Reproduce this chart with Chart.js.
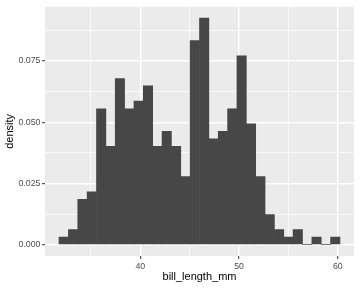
<!DOCTYPE html>
<html>
<head>
<meta charset="utf-8">
<script src="https://cdn.jsdelivr.net/npm/chart.js@4.4.1/dist/chart.umd.min.js"></script>
<style>
  html, body { margin: 0; padding: 0; background: #ffffff; }
  #wrap { width: 360px; height: 288px; }
</style>
</head>
<body>
<div id="wrap"><canvas id="chart"></canvas></div>
<script>
// bin centres (bill_length_mm) and density of each bin
const binCenters = [32.241, 33.189, 34.138, 35.086, 36.034, 36.982, 37.931, 38.879, 39.827, 40.776,
                    41.724, 42.672, 43.620, 44.569, 45.517, 46.465, 47.413, 48.362, 49.310, 50.258,
                    51.207, 52.155, 53.103, 54.051, 55.000, 55.948, 56.896, 57.844, 58.793, 59.741];
const densities = [0.0031, 0.0062, 0.0185, 0.0216, 0.0555, 0.0401, 0.0678, 0.0555, 0.0586, 0.0648,
                   0.0401, 0.0463, 0.0401, 0.0278, 0.0833, 0.0925, 0.0432, 0.0463, 0.0555, 0.0771,
                   0.0493, 0.0278, 0.0123, 0.0062, 0.0031, 0.0062, 0, 0.0031, 0, 0.0031];
const xTicks = [35, 40, 45, 50, 55, 60];
const xMajor = [40, 50, 60];
const yTicks = [0, 0.0125, 0.025, 0.0375, 0.05, 0.0625, 0.075, 0.0875];
const yMajor = [0, 0.025, 0.05, 0.075];

const fontFamily = '"Liberation Sans", Arial, sans-serif';
const isMajor = (list, v) => list.some(m => Math.abs(m - v) < 1e-9);

// grey panel behind the chart area
const panelBg = {
  id: 'panelBg',
  beforeDraw(chart) {
    const { ctx, chartArea: a } = chart;
    ctx.save();
    ctx.fillStyle = '#EBEBEB';
    ctx.fillRect(a.left, a.top, a.right - a.left, a.bottom - a.top);
    ctx.restore();
  }
};

const ctx = document.getElementById('chart').getContext('2d');
new Chart(ctx, {
  type: 'bar',
  data: {
    datasets: [{
      data: binCenters.map((x, i) => ({ x: x, y: densities[i] })),
      backgroundColor: '#474747',
      borderWidth: 0,
      barPercentage: 1,
      categoryPercentage: 1
    }]
  },
  options: {
    responsive: true,
    maintainAspectRatio: false,
    animation: false,
    layout: { padding: { top: 5, right: 6, left: 0, bottom: 0 } },
    plugins: { legend: { display: false }, tooltip: { enabled: false } },
    scales: {
      x: {
        type: 'linear',
        offset: false,
        min: 30.345,
        max: 61.637,
        afterBuildTicks: s => { s.ticks = xTicks.map(v => ({ value: v })); },
        afterFit: s => { s.height = 32; },
        border: { display: false },
        grid: {
          offset: false,
          color: '#ffffff',
          lineWidth: c => (c.tick && isMajor(xMajor, c.tick.value)) ? 1.4 : 0.7,
          drawTicks: true,
          tickLength: 3,
          tickWidth: 1,
          tickColor: c => (c.tick && isMajor(xMajor, c.tick.value)) ? '#333333' : 'rgba(0,0,0,0)'
        },
        ticks: {
          autoSkip: false,
          maxRotation: 0,
          padding: 2,
          color: '#4D4D4D',
          font: { family: fontFamily, size: 8.8 },
          callback: v => isMajor(xMajor, v) ? String(v) : ''
        },
        title: {
          display: true,
          text: 'bill_length_mm',
          color: '#000000',
          font: { family: fontFamily, size: 11 },
          padding: { top: 0, bottom: 4.4 }
        }
      },
      y: {
        min: -0.004625,
        max: 0.097125,
        afterBuildTicks: s => { s.ticks = yTicks.map(v => ({ value: v })); },
        afterFit: s => { s.width = 45; },
        border: { display: false },
        grid: {
          color: '#ffffff',
          lineWidth: c => (c.tick && isMajor(yMajor, c.tick.value)) ? 1.4 : 0.7,
          drawTicks: true,
          tickLength: 3,
          tickWidth: 1,
          tickColor: c => (c.tick && isMajor(yMajor, c.tick.value)) ? '#333333' : 'rgba(0,0,0,0)'
        },
        ticks: {
          autoSkip: false,
          padding: 1.5,
          color: '#4D4D4D',
          font: { family: fontFamily, size: 8.8 },
          callback: v => isMajor(yMajor, v) ? v.toFixed(3) : ''
        },
        title: {
          display: true,
          text: 'density',
          color: '#000000',
          font: { family: fontFamily, size: 11 },
          padding: { top: 2.9, bottom: 0 }
        }
      }
    }
  },
  plugins: [panelBg]
});
</script>
</body>
</html>
